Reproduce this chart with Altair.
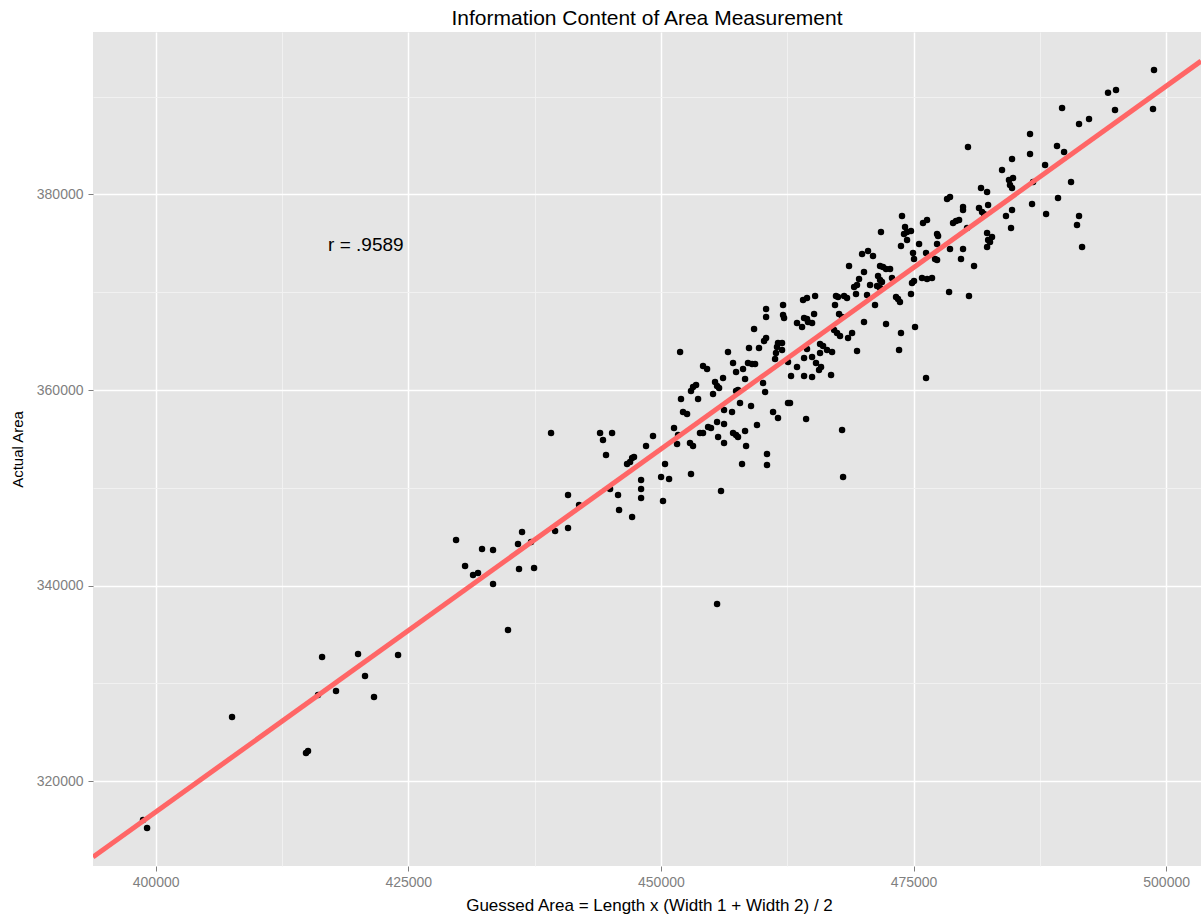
import altair as alt
import pandas as pd

# Guessed area (x) and actual area (y)
x_vals = [
    398750, 399150, 407560, 414880, 415080, 416470, 416070, 417850, 420030, 420720,
    421610, 423990, 429730, 430620, 431410, 431900, 432300, 433390, 433390, 434870,
    435860, 436260, 435960, 437150, 437450, 439130, 439530, 440810, 440810, 441900,
    443980, 444270, 445170, 444570, 444970, 445760, 445860, 447150, 446650, 446950,
    447150, 447340, 448040, 448040, 448040, 448530, 449220, 450020, 450210, 450410,
    450810, 451300, 451600, 451700, 451900, 451990, 452190, 452590, 452880, 453180,
    452980, 452980, 453180, 453480, 453680, 453870, 454170, 454170, 454570, 454670,
    454960, 455160, 455360, 455560, 455760, 455560, 455660, 455950, 455560, 456150,
    456250, 456250, 456250, 456640, 457040, 457140, 457440, 457140, 457440, 457630,
    457830, 457440, 457630, 458030, 458130, 458330, 458330, 458430, 458620, 459020,
    459320, 458720, 458920, 459220, 459710, 459510, 460110, 460310, 460210, 460410,
    460500, 460500, 461100, 461590, 461300, 461390, 461490, 461590, 461990, 461990,
    462580, 462580, 462780, 462880, 463470, 463970, 463470, 464170, 464170, 464370,
    464460, 464560, 464960, 464960, 465350, 465650, 465850, 465750, 466050, 466440,
    466840, 466940, 467140, 467430, 467730, 467930, 468030, 468520, 468920, 469410,
    470100, 460410, 460410, 462090, 462090, 462190, 464070, 464460, 465260, 465160,
    464170, 464460, 467330, 467530, 468130, 468420, 467230, 467630, 467930, 469120,
    469310, 468620, 469410, 469610, 470100, 470400, 469910, 470500, 470990, 470700,
    471190, 471390, 471690, 471490, 471690, 471880, 471690, 471980, 472680, 472280,
    471780, 472280, 472870, 473270, 473470, 473660, 473760, 473570, 473860, 474160,
    474360, 474750, 474060, 474360, 473760, 474750, 474850, 475050, 474950, 475050,
    475150, 475550, 475840, 476340, 476830, 475940, 476340, 476240, 476240, 477130,
    477330, 477330, 477430, 477330, 478320, 478610, 478520, 498800, 494250, 495040,
    494940, 498700, 489700, 491380, 492370, 486530, 486530, 489200, 489900, 488020,
    490590, 489300, 491380, 491180, 491680, 488120, 486730, 486830, 480390, 484750,
    483760, 484450, 484850, 484550, 484750, 481680, 482280, 482380, 481480, 481780,
    481980, 484150, 484750, 484650, 479900, 479900, 482770, 482570, 482280, 480300,
    479900, 478610, 479700, 480990, 480490, 478910, 479210, 479510, 482280, 482380,
    464960, 465750,
]
y_vals = [
    316010, 315190, 326550, 322860, 323070, 332690, 328800, 329210, 333000, 330740,
    328590, 332890, 344660, 342000, 341070, 341280, 343730, 343630, 340150, 335450,
    344250, 345470, 341690, 344450, 341790, 355600, 345570, 349260, 345880, 348240,
    355600, 354880, 355600, 353350, 349870, 349260, 347720, 347010, 352430, 352630,
    353040, 353150, 350790, 349870, 348950, 354270, 355290, 351100, 348650, 352430,
    350900, 356110, 354480, 355400, 363890, 359080, 357750, 357540, 354580, 354270,
    351410, 359900, 360310, 360510, 359080, 355600, 355600, 362450, 362150, 356220,
    356110, 359590, 360820, 360410, 360200, 356730, 355190, 349670, 338110, 361230,
    357950, 356520, 354580, 363890, 357750, 362760, 361840, 355600, 355400, 355190,
    358670, 359900, 360000, 352430, 362150, 361130, 355810, 354270, 362760, 362660,
    362660, 364300, 358360, 366240, 364300, 356420, 360720, 359800, 365010, 365320,
    353450, 352330, 357750, 357130, 363170, 363790, 364400, 364810, 364810, 364090,
    362860, 358670, 358670, 361430, 366850, 366450, 362350, 361430, 363270, 357030,
    364200, 366960, 366850, 361330, 362760, 362050, 362350, 364710, 364500, 364090,
    361530, 363890, 366140, 365830, 365530, 355910, 351100, 365320, 365830, 363990,
    366960, 368290, 367470, 368700, 367670, 367370, 369210, 369410, 369620, 367770,
    367370, 367260, 369620, 369510, 369620, 369410, 368700, 367770, 367470, 370540,
    369820, 372690, 370740, 371360, 372070, 369720, 373910, 374220, 373710, 370740,
    368700, 370640, 370440, 371660, 371250, 371050, 372690, 372580, 372380, 372380,
    376160, 366750, 371460, 369510, 369310, 369000, 365830, 364090, 377800, 376670,
    376160, 376260, 375960, 375340, 374730, 369820, 370950, 371150, 374010, 373400,
    366450, 374940, 371460, 371360, 371460, 377080, 377390, 374010, 361230, 373400,
    373300, 375960, 375750, 374940, 379540, 379740, 370030, 392740, 390410, 390690,
    388640, 388750, 388850, 387210, 387720, 386190, 384140, 384960, 384350, 383020,
    381280, 379640, 377800, 376880, 374630, 378000, 379030, 381280, 384860, 383630,
    382510, 381480, 381690, 380970, 380660, 380660, 380250, 378920, 378620, 378210,
    378000, 377800, 378410, 376570, 378720, 378410, 375650, 375140, 374630, 376570,
    374420, 374420, 373400, 372690, 369620, 377080, 377290, 377390, 376060, 375340,
    363380, 363790,
]

x_ticks = [400000, 412500, 425000, 437500, 450000, 462500, 475000, 487500, 500000]
y_ticks = [320000, 330000, 340000, 350000, 360000, 370000, 380000, 390000]
x_domain = [393800, 503450]
y_domain = [311310, 396620]

note_x = [420800]
note_y = [374800]
note_text = ["r = .9589"]

FONT = "Liberation Sans"

df = pd.DataFrame({"x": x_vals, "y": y_vals})
notes = pd.DataFrame({"x": note_x, "y": note_y, "t": note_text})

x_major = "datum.value % 25000 === 0"
y_major = "datum.value % 20000 === 0"


def axis_style(test, title, title_size, **kw):
    return alt.Axis(
        title=title,
        format="d",
        labelExpr=f"{test} ? datum.label : ''",
        labelOverlap=False,
        labelFlush=False,
        domain=False,
        tickSize=5,
        tickColor={"condition": {"test": test, "value": "#7F7F7F"}, "value": "transparent"},
        gridColor={"condition": {"test": test, "value": "#FFFFFF"}, "value": "#F2F2F2"},
        gridWidth={"condition": {"test": test, "value": 1.5}, "value": 0.9},
        labelColor="#7F7F7F",
        labelFont=FONT,
        labelFontSize=14,
        titleFont=FONT,
        titleFontSize=title_size,
        titleFontWeight="normal",
        titleColor="black",
        **kw,
    )


x_enc = alt.X(
    "x:Q",
    scale=alt.Scale(domain=x_domain, nice=False, zero=False),
    axis=axis_style(x_major, "Guessed Area = Length x (Width 1 + Width 2) / 2", 17,
                    values=x_ticks, labelPadding=4, titleX=556, titleY=39,
                    titleBaseline="middle"),
)
y_enc = alt.Y(
    "y:Q",
    scale=alt.Scale(domain=y_domain, nice=False, zero=False),
    axis=axis_style(y_major, "Actual Area", 15,
                    values=y_ticks, labelPadding=5, titleX=-76, titleY=417,
                    titleBaseline="middle"),
)

points = alt.Chart(df).mark_circle(size=42, color="black", opacity=1, clip=True).encode(
    x=x_enc, y=y_enc
)

fit = (
    alt.Chart(df)
    .transform_regression("x", "y", extent=x_domain)
    .mark_line(color="#FF6666", strokeWidth=5, clip=True)
    .encode(x="x:Q", y="y:Q")
)

note = alt.Chart(notes).mark_text(fontSize=19, font=FONT, color="black").encode(
    x="x:Q", y="y:Q", text="t:N"
)

chart = (
    alt.layer(points, fit, note)
    .properties(
        width=1108,
        height=834,
        autosize=alt.AutoSizeParams(type="none"),
        padding={"left": 93, "top": 32, "right": 0, "bottom": 50},
        title=alt.TitleParams(
            "Information Content of Area Measurement",
            font=FONT,
            fontSize=21,
            fontWeight="normal",
            color="black",
            anchor="middle",
            frame="group",
            baseline="alphabetic",
            offset=7,
            dy=21,
        ),
        background="white",
    )
    .configure_view(fill="#E5E5E5", strokeWidth=0)
)

chart.save("out.html", embed_options={"renderer": "svg", "actions": False})
